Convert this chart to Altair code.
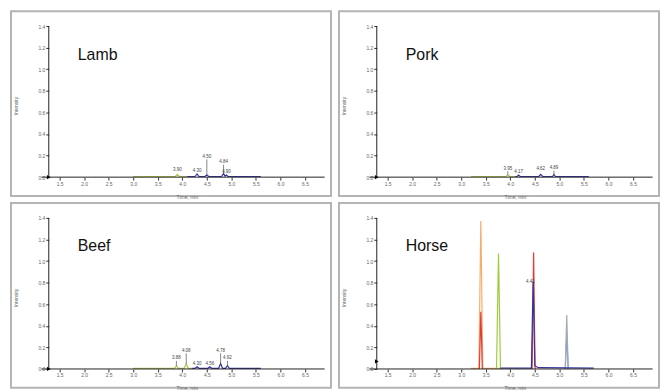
import altair as alt
import pandas as pd

# ---------------- data ----------------
PANELS = ["Lamb", "Pork", "Beef", "Horse"]
X_TICKS = [1.5, 2.0, 2.5, 3.0, 3.5, 4.0, 4.5, 5.0, 5.5, 6.0, 6.5]
Y_TICKS = [0.0, 0.2, 0.4, 0.6, 0.8, 1.0, 1.2, 1.4]
AXIS_X_START = 1.28
AXIS_X_END = 6.9
AXIS_Y_TOP = 1.4
X_DOMAIN = [0.51, 7.03]
Y_DOMAIN = [-0.175, 1.538]

COLOR_KEYS = ["olive", "navy", "orange", "red", "lime", "gray", "sky"]
COLOR_VALUES = ["#b2c455", "#34349a", "#f5ad6a", "#e23a34", "#9ccc3c", "#a2aab3", "#6c9fd6"]

# Lamb traces
lamb_olive_x = [3.0, 3.86, 3.90, 3.94, 4.1]
lamb_olive_y = [0.006, 0.006, 0.025, 0.006, 0.006]
lamb_navy_x = [4.1, 4.26, 4.30, 4.34, 4.46, 4.50, 4.54, 4.80, 4.84, 4.87, 4.90, 4.93, 5.6]
lamb_navy_y = [0.006, 0.006, 0.03, 0.006, 0.006, 0.02, 0.006, 0.006, 0.035, 0.01, 0.02, 0.006, 0.006]
lamb_label_x = [3.90, 4.30, 4.50, 4.84, 4.90]
lamb_label_y = [0.07, 0.055, 0.19, 0.14, 0.05]
lamb_apex_y = [0.025, 0.03, 0.02, 0.035, 0.02]

# Pork traces
pork_olive_x = [3.2, 3.91, 3.95, 3.99, 4.1]
pork_olive_y = [0.006, 0.006, 0.02, 0.006, 0.006]
pork_navy_x = [4.1, 4.14, 4.17, 4.20, 4.58, 4.62, 4.66, 4.86, 4.89, 4.92, 5.6]
pork_navy_y = [0.006, 0.006, 0.02, 0.006, 0.006, 0.025, 0.006, 0.006, 0.025, 0.006, 0.006]
pork_label_x = [3.95, 4.17, 4.62, 4.89]
pork_label_y = [0.08, 0.045, 0.08, 0.085]
pork_apex_y = [0.02, 0.02, 0.025, 0.025]

# Beef traces
beef_olive_x = [3.0, 3.84, 3.88, 3.92, 4.04, 4.08, 4.12, 4.2]
beef_olive_y = [0.006, 0.006, 0.03, 0.006, 0.006, 0.05, 0.006, 0.006]
beef_navy_x = [4.2, 4.26, 4.30, 4.34, 4.52, 4.56, 4.60, 4.74, 4.78, 4.82, 4.88, 4.92, 4.96, 5.6]
beef_navy_y = [0.006, 0.006, 0.02, 0.006, 0.006, 0.02, 0.006, 0.006, 0.05, 0.006, 0.006, 0.03, 0.006, 0.006]
beef_label_x = [3.88, 4.08, 4.30, 4.56, 4.78, 4.92]
beef_label_y = [0.10, 0.17, 0.05, 0.05, 0.17, 0.10]
beef_apex_y = [0.03, 0.05, 0.02, 0.02, 0.05, 0.03]

# Horse traces
horse_orange_x = [3.2, 3.36, 3.40, 3.44, 3.8]
horse_orange_y = [0.006, 0.006, 1.37, 0.006, 0.006]
horse_red1_x = [3.37, 3.40, 3.43]
horse_red1_y = [0.0, 0.53, 0.0]
horse_lime_x = [3.72, 3.76, 3.80]
horse_lime_y = [0.0, 1.07, 0.0]
horse_red2_x = [4.445, 4.475, 4.505]
horse_red2_y = [0.0, 1.08, 0.0]
horse_navy_x = [3.8, 4.43, 4.465, 4.50, 4.57, 5.7]
horse_navy_y = [0.008, 0.008, 0.81, 0.03, 0.012, 0.008]
horse_gray_x = [5.12, 5.15, 5.18]
horse_gray_y = [0.0, 0.50, 0.0]
horse_sky_x = [5.12, 5.15, 5.18]
horse_sky_y = [0.0, 0.32, 0.0]
horse_label_x = [4.41]
horse_label_y = [0.81]
horse_apex_y = [0.81]

MARKER_Y = [0.0, 0.0, 0.0, 0.07]
NAME_X = 1.87
NAME_Y = 1.09

# ---------------- tables ----------------
TRACES = [
    ("Lamb", "a1", "olive", lamb_olive_x, lamb_olive_y),
    ("Lamb", "a2", "navy", lamb_navy_x, lamb_navy_y),
    ("Pork", "a1", "olive", pork_olive_x, pork_olive_y),
    ("Pork", "a2", "navy", pork_navy_x, pork_navy_y),
    ("Beef", "a1", "olive", beef_olive_x, beef_olive_y),
    ("Beef", "a2", "navy", beef_navy_x, beef_navy_y),
    ("Horse", "a1", "orange", horse_orange_x, horse_orange_y),
    ("Horse", "a2", "red", horse_red1_x, horse_red1_y),
    ("Horse", "a3", "lime", horse_lime_x, horse_lime_y),
    ("Horse", "a4", "sky", horse_sky_x, horse_sky_y),
    ("Horse", "a5", "gray", horse_gray_x, horse_gray_y),
    ("Horse", "a6", "red", horse_red2_x, horse_red2_y),
    ("Horse", "a7", "navy", horse_navy_x, horse_navy_y),
]
rows = []
for p, s, c, xs_, ys_ in TRACES:
    for i, (x, y) in enumerate(zip(xs_, ys_)):
        rows.append({"panel": p, "series": s, "c": c, "x": x, "y": y, "i": i})
traces = pd.DataFrame(rows)

LABELS = {
    "Lamb": (lamb_label_x, lamb_label_y, lamb_apex_y),
    "Pork": (pork_label_x, pork_label_y, pork_apex_y),
    "Beef": (beef_label_x, beef_label_y, beef_apex_y),
    "Horse": (horse_label_x, horse_label_y, horse_apex_y),
}

W, H = 322, 186
ZERO_PX = 167
YAXIS_PX = 38

xs = alt.Scale(domain=X_DOMAIN, nice=False, zero=False)
ys = alt.Scale(domain=Y_DOMAIN, nice=False, zero=False)

x_axis = alt.Axis(values=X_TICKS, format=".1f", offset=-(H - ZERO_PX), domain=False,
                  grid=False, tickSize=3, tickColor="#333", labelFontSize=5,
                  labelColor="#666", labelPadding=1, labelOverlap=False, labelFlush=False,
                  title="Time, min", titleX=177, titleY=17, titleFontSize=5,
                  titleFontWeight="normal", titleColor="#666")
y_axis = alt.Axis(values=Y_TICKS, format=".1f", offset=-YAXIS_PX, domain=False,
                  grid=False, tickSize=3, tickColor="#333", labelFontSize=5,
                  labelColor="#666", labelPadding=1, labelOverlap=False, labelFlush=False,
                  title="Intensity", titleX=-30, titleY=95, titleFontSize=5,
                  titleFontWeight="normal", titleColor="#666")


def X(field):
    return alt.X(field, scale=xs, axis=x_axis)


def Y(field):
    return alt.Y(field, scale=ys, axis=y_axis)


def panel(name, k):
    t = traces[traces.panel == name]
    lines = alt.Chart(t).mark_line(strokeWidth=1.2).encode(
        x=X("x:Q"),
        y=Y("y:Q"),
        color=alt.Color("c:N", scale=alt.Scale(domain=COLOR_KEYS, range=COLOR_VALUES), legend=None),
        detail="series:N",
        order="i:Q",
    )
    axes_df = pd.DataFrame({
        "x": [AXIS_X_START - 0.15, AXIS_X_START],
        "x2": [AXIS_X_END, AXIS_X_START],
        "y": [0.0, 0.0],
        "y2": [0.0, AXIS_Y_TOP],
    })
    axes = alt.Chart(axes_df).mark_rule(color="#222", strokeWidth=1).encode(
        x=X("x:Q"), x2="x2:Q", y=Y("y:Q"), y2="y2:Q",
    )
    lx, ly, ay = LABELS[name]
    lab_df = pd.DataFrame({"x": lx, "y": ly, "apex": ay,
                           "top": [v - 0.025 for v in ly],
                           "txt": [f"{v:.2f}" for v in lx]})
    leaders = alt.Chart(lab_df[lab_df.top > lab_df.apex + 0.03]).mark_rule(
        color="#555", strokeWidth=0.7).encode(
        x=X("x:Q"), y=Y("apex:Q"), y2="top:Q",
    )
    labels = alt.Chart(lab_df).mark_text(fontSize=4.5, color="#444", font="Liberation Sans",
                                         baseline="middle").encode(
        x=X("x:Q"), y=Y("y:Q"), text="txt:N",
    )
    name_df = pd.DataFrame({"x": [NAME_X], "y": [NAME_Y], "name": [name]})
    title = alt.Chart(name_df).mark_text(fontSize=16, color="#111", font="Liberation Sans",
                                         align="left", baseline="alphabetic").encode(
        x=X("x:Q"), y=Y("y:Q"), text="name:N",
    )
    mk_df = pd.DataFrame({"x": [AXIS_X_START], "y": [MARKER_Y[k]]})
    marker = alt.Chart(mk_df).mark_point(shape="triangle-right", filled=True, size=18,
                                         color="#000", opacity=1).encode(
        x=X("x:Q"), y=Y("y:Q"),
    )
    return alt.layer(lines, axes, leaders, labels, title, marker).properties(width=W, height=H)


charts = [panel(n, k) for k, n in enumerate(PANELS)]
chart = alt.vconcat(
    alt.hconcat(charts[0], charts[1], spacing=6),
    alt.hconcat(charts[2], charts[3], spacing=6),
    spacing=2,
).properties(
    padding={"left": 2, "top": 1, "right": 2, "bottom": 2},
    background="white",
).configure_view(stroke="#b4b4b4", strokeWidth=2)

chart.save("out.html", embed_options={"renderer": "svg", "actions": False})
